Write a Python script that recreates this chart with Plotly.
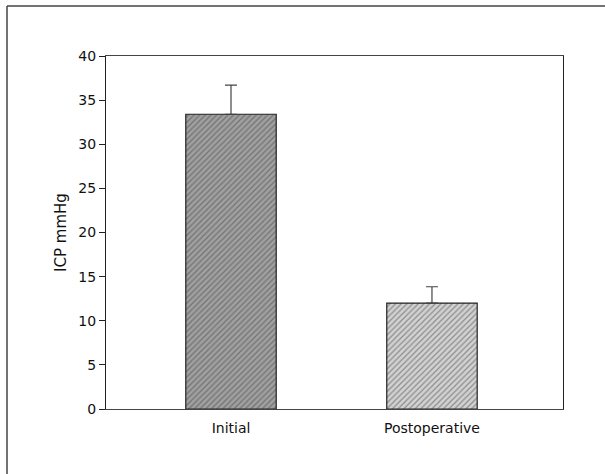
import plotly.graph_objects as go

categories = ["Initial", "Postoperative"]
means = [33.4, 12.0]
err_plus = [3.3, 1.85]
bar_fills = ["#a0a0a0", "#d2d2d2"]
hatch_colors = ["#707070", "#b0b0b0"]

fig = go.Figure()
fig.add_trace(go.Bar(
    x=[0, 1], y=means,
    width=0.45,
    marker=dict(
        color=bar_fills,
        line=dict(color="#222", width=1.2),
        pattern=dict(shape="/", bgcolor=bar_fills, fgcolor=hatch_colors, size=4, solidity=0.3),
    ),
    error_y=dict(type="data", array=err_plus, arrayminus=[0, 0], symmetric=False,
                 color="#444", thickness=1.2, width=6),
    showlegend=False,
))

fnt = "DejaVu Sans, sans-serif"
fig.update_layout(
    width=605, height=474,
    margin=dict(l=106, r=42, t=56, b=65),
    paper_bgcolor="white", plot_bgcolor="white",
    font=dict(family=fnt, size=14, color="#111"),
    xaxis=dict(
        range=[-0.622, 1.652], tickmode="array", tickvals=[0, 1], ticktext=categories,
        showline=True, linecolor="#444", linewidth=1, mirror=True,
        ticks="", showgrid=False, zeroline=False, tickfont=dict(size=14),
        ticklabelstandoff=6,
    ),
    yaxis=dict(
        range=[0, 40], dtick=5, showline=True, linecolor="#222", linewidth=1.2, mirror=True,
        ticks="outside", ticklen=6, tickcolor="#222", showgrid=False, zeroline=False,
        tickfont=dict(size=14),
        title=dict(text="ICP mmHg", font=dict(size=15), standoff=8),
    ),
    shapes=[
        dict(type="line", xref="paper", yref="paper", x0=-99/457, x1=1.2, y0=(409-6)/353, y1=(409-6)/353,
             line=dict(color="#444", width=1.5)),
        dict(type="line", xref="paper", yref="paper", x0=-99/457, x1=-99/457, y0=(409-6)/353, y1=-0.3,
             line=dict(color="#444", width=1.5)),
    ],
)

fig.write_html("out.html", config={"displayModeBar": False},
               post_script="document.body.style.margin='0px';document.body.style.overflow='hidden';")
